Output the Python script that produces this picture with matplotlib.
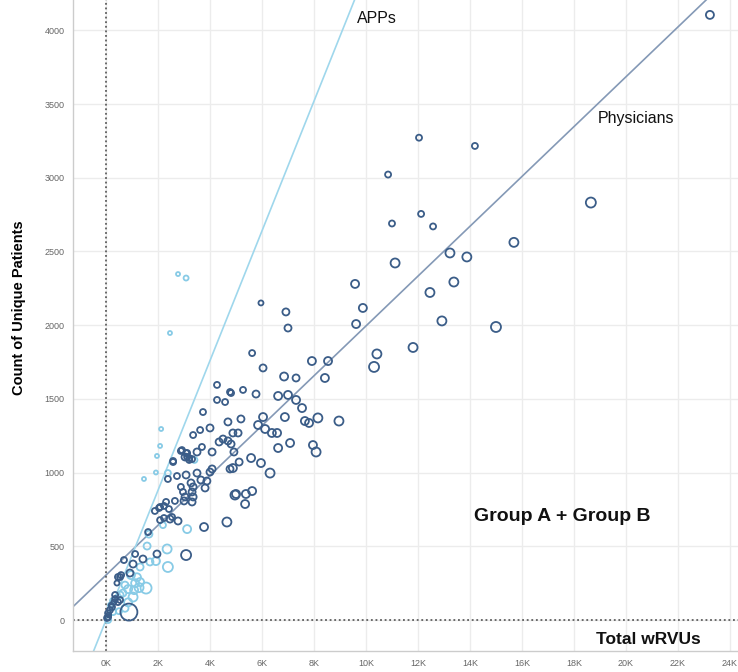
import matplotlib
matplotlib.use("Agg")
import matplotlib.pyplot as plt
import numpy as np
from matplotlib.ticker import FuncFormatter, MultipleLocator

plt.rcParams["font.family"] = ["Liberation Sans", "DejaVu Sans"]

# Physicians: total wRVUs (thousands), unique patients, bubble size
phys_wrvu_k = [
    23.23, 12.04, 14.19, 10.85, 18.65, 12.12, 11.0, 12.58, 15.69, 13.23, 13.88,
    11.12, 13.38, 12.46, 12.92, 15.0, 11.81, 9.58, 9.88, 9.62, 10.42, 10.31,
    5.96, 6.92, 7.0, 5.62, 6.04, 7.92, 8.54, 8.42, 6.85, 7.31, 5.27, 5.77, 4.81,
    4.27, 4.77, 4.27, 4.58, 6.62, 7.0, 7.31, 7.54, 3.73, 4.69, 5.19, 6.04, 6.88,
    5.85, 6.12, 6.38, 6.58, 7.65, 7.81, 8.15, 8.96, 4.0, 3.62, 3.35, 4.88, 5.08,
    4.5, 4.35, 4.69, 4.81, 3.69, 3.5, 4.08, 4.92, 2.92, 3.12, 3.04, 3.2, 2.58,
    6.62, 7.08, 7.96, 8.08, 5.58, 5.96, 5.12, 6.31, 4.88, 4.08, 4.77, 5.0, 5.38,
    5.62, 5.35, 4.65, 2.88, 3.08, 3.12, 3.2, 3.31, 2.58, 2.38, 2.73, 3.08, 3.5,
    3.27, 3.65, 3.88, 4.0, 2.88, 2.96, 3.35, 3.31, 3.81, 3.04, 3.35, 3.0, 3.31,
    2.65, 2.31, 4.96, 2.08, 2.23, 2.42, 1.88, 2.04, 2.08, 2.23, 2.46, 2.54, 2.77,
    1.62, 3.77, 3.08, 1.12, 1.96, 1.42, 0.69, 1.04, 0.92, 0.54, 0.46, 0.58, 0.42,
    0.35, 0.35, 0.46, 0.54, 0.88, 0.23, 0.15, 0.08, 0.08, 0.04, 0.1, 0.2, 0.3,
]
phys_patients = [
    4105, 3272, 3216, 3022, 2832, 2755, 2690, 2670, 2562, 2490, 2463,
    2422, 2293, 2222, 2029, 1988, 1849, 2280, 2117, 2008, 1805, 1717,
    2151, 2090, 1981, 1811, 1710, 1757, 1757, 1642, 1652, 1642, 1561, 1533, 1540,
    1595, 1547, 1493, 1479, 1520, 1527, 1493, 1438, 1411, 1344, 1364, 1377, 1377,
    1323, 1296, 1269, 1269, 1350, 1337, 1371, 1350, 1303, 1289, 1255, 1269, 1269,
    1228, 1208, 1215, 1194, 1174, 1140, 1140, 1140, 1153, 1133, 1106, 1099, 1079,
    1167, 1201, 1187, 1140, 1099, 1065, 1072, 997, 1031, 1025, 1025, 855, 855,
    875, 787, 665, 1147, 1133, 1106, 1086, 1092, 1072, 957, 977, 984, 997,
    930, 950, 943, 1004, 903, 869, 903, 869, 896, 835, 835, 808, 801,
    808, 801, 848, 767, 774, 753, 740, 760, 678, 692, 685, 699, 672,
    597, 631, 441, 448, 448, 414, 407, 380, 319, 292, 292, 305, 251,
    170, 143, 122, 136, 54, 88, 68, 47, 20, 14, 34, 100, 120,
]
phys_bubble = [
    8, 6, 6, 6, 10, 6, 6, 6, 9, 9, 9,
    9, 9, 9, 9, 10, 9, 8, 8, 8, 9, 10,
    5, 7, 7, 6, 7, 8, 8, 8, 8, 7, 6, 7, 6,
    6, 6, 6, 6, 8, 8, 8, 8, 6, 7, 7, 8, 8,
    8, 8, 8, 8, 8, 8, 9, 9, 7, 6, 6, 7, 7,
    7, 7, 7, 7, 6, 7, 7, 7, 6, 6, 7, 6, 6,
    8, 8, 8, 9, 8, 8, 7, 9, 8, 7, 7, 8, 8,
    8, 8, 9, 6, 6, 6, 6, 6, 6, 6, 6, 7, 7,
    7, 7, 7, 7, 6, 6, 7, 7, 7, 7, 7, 7, 7,
    6, 6, 9, 6, 6, 6, 6, 6, 6, 6, 7, 6, 7,
    6, 8, 10, 6, 7, 7, 6, 7, 7, 6, 6, 6, 5,
    6, 6, 6, 6, 17, 6, 6, 6, 6, 6, 5, 5, 5,
]

# APPs
app_wrvu_k = [
    2.77, 3.08, 2.46, 2.12, 2.08, 1.96, 1.92, 1.46, 2.38, 3.4, 2.19, 3.12,
    1.58, 2.35, 1.92, 1.69, 2.38, 0.96, 0.73, 1.12, 1.31, 1.08, 1.27, 1.54,
    0.85, 0.65, 1.04, 0.54, 0.27, 0.19, 0.73, 0.5, 0.08, 0.27, 1.19, 0.85,
    1.65, 1.31,
]
app_patients = [
    2347, 2320, 1947, 1296, 1181, 1113, 1001, 957, 997, 1086, 644, 617,
    502, 482, 400, 394, 360, 305, 237, 250, 258, 203, 220, 217,
    210, 183, 156, 170, 130, 100, 80, 60, 0, 54, 290, 120,
    583, 360,
]
app_bubble = [
    4, 5, 4, 4, 4, 4, 4, 4, 6, 6, 6, 8,
    7, 9, 8, 7, 10, 8, 7, 8, 8, 8, 9, 11,
    8, 7, 9, 7, 6, 6, 7, 6, 6, 6, 8, 8,
    7, 7,
]

# Trend lines: patients = slope * wRVUs + intercept
phys_slope, phys_intercept = 0.169, 305
app_slope, app_intercept = 0.44, 0

PHYS_COLOR = "#3b5d88"
APP_COLOR = "#88cbe6"
PHYS_LINE = "#8499b6"
APP_LINE = "#9fd7ec"


def bubble_area(values):
    # diameter in px -> marker area in pt^2 (100 dpi)
    return (np.asarray(values) * 0.72) ** 2


fig = plt.figure(figsize=(7.38, 6.72), dpi=100)
ax = fig.add_axes([73 / 738, 21 / 672, 665 / 738, 651 / 672])

xlim = (-1270, 24310)
ylim = (-210, 4206)

xs = np.array(xlim, dtype=float)
ax.plot(xs, phys_slope * xs + phys_intercept, color=PHYS_LINE, lw=1.2, zorder=2)
ax.plot(xs, app_slope * xs + app_intercept, color=APP_LINE, lw=1.2, zorder=2)

ax.scatter(np.array(app_wrvu_k) * 1000, app_patients, s=bubble_area(app_bubble),
           facecolors="none", edgecolors=APP_COLOR, linewidths=1.3, zorder=3)
ax.scatter(np.array(phys_wrvu_k) * 1000, phys_patients, s=bubble_area(phys_bubble),
           facecolors="none", edgecolors=PHYS_COLOR, linewidths=1.3, zorder=4)

# zero reference lines, finely dotted
ax.axvline(0, color="#444444", lw=1.1, ls=(0, (1.2, 1.8)), zorder=2.5)
ax.axhline(0, color="#444444", lw=1.1, ls=(0, (1.2, 1.8)), zorder=2.5)

ax.set_xlim(xlim)
ax.set_ylim(ylim)
ax.xaxis.set_major_locator(MultipleLocator(2000))
ax.yaxis.set_major_locator(MultipleLocator(500))
ax.xaxis.set_major_formatter(FuncFormatter(lambda v, _: f"{v / 1000:.0f}K"))
ax.grid(True, color="#ececec", lw=1.0, zorder=0)
ax.set_axisbelow(True)
ax.tick_params(length=0, labelsize=6.5, labelcolor="#666666")
ax.tick_params(axis="x", pad=6)
ax.tick_params(axis="y", pad=6)

for side in ("top", "right"):
    ax.spines[side].set_visible(False)
for side in ("left", "bottom"):
    ax.spines[side].set_color("#cccccc")
    ax.spines[side].set_linewidth(1.0)

ax.text(9650, 4080, "APPs", fontsize=11.5, color="#111111", va="center")
ax.text(18900, 3400, "Physicians", fontsize=11.5, color="#111111", va="center")
ax.text(14150, 700, "Group A + Group B", fontsize=14, fontweight="bold",
        color="#111111", va="center")
ax.text(18850, -135, "Total wRVUs", fontsize=12.5, fontweight="bold",
        color="#111111", va="center")

fig.text(19 / 738, 1 - 308 / 672, "Count of Unique Patients", rotation=90,
         fontsize=10.5, fontweight="bold", ha="center", va="center")

fig.savefig("out.png", dpi=100)
